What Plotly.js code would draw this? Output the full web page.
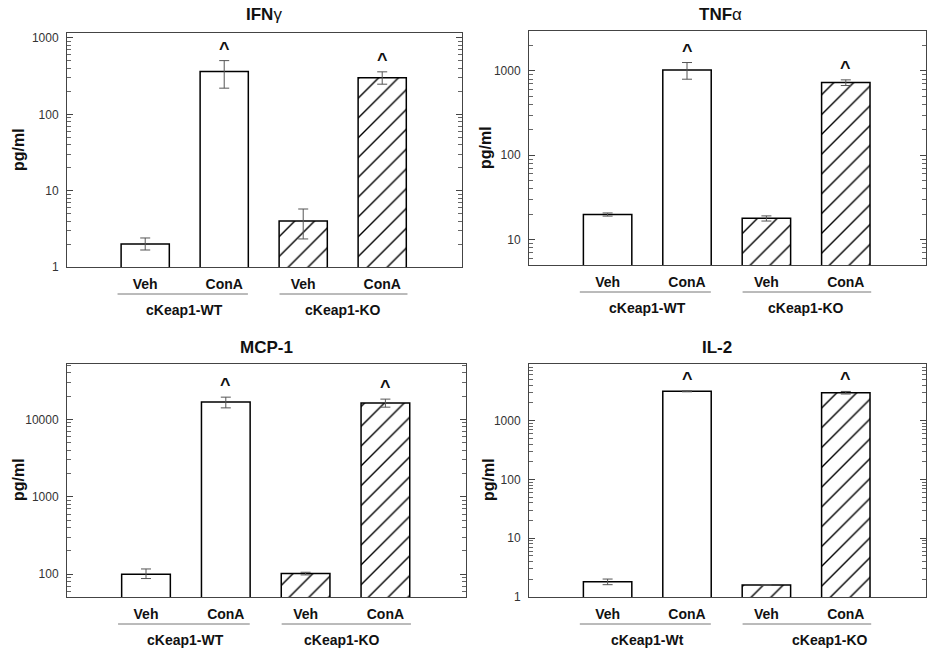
<!DOCTYPE html>
<html>
<head>
<meta charset="utf-8">
<script src="https://cdn.plot.ly/plotly-3.0.1.min.js"></script>
<style>html,body{margin:0;padding:0;background:#fff;}#chart{width:943px;height:660px;}</style>
</head>
<body>
<div id="chart"></div>
<script>
// ---------- data ----------
const categories = ['Veh', 'ConA', 'Veh', 'ConA'];
const groupsTop = ['cKeap1-WT', 'cKeap1-KO'];
const groupsIL2 = ['cKeap1-Wt', 'cKeap1-KO'];
const titles = ['IFN<span style="font-weight:normal">γ</span>', 'TNF<span style="font-weight:normal">α</span>', 'MCP-1', 'IL-2'];
const yTitle = 'pg/ml';
const markText = '^';
const markedBars = [1, 3];

const ifnMean = [2.0, 363, 4.0, 302];
const ifnErrPlus = [0.4, 142, 1.75, 58];
const ifnErrMinus = [0.33, 143, 1.67, 54];
const ifnTicks = [1, 10, 100, 1000];

const tnfMean = [19.8, 1028, 17.9, 730];
const tnfErrPlus = [0.9, 229, 1.2, 53];
const tnfErrMinus = [0.8, 231, 1.3, 59];
const tnfTicks = [10, 100, 1000];

const mcpMean = [100, 16750, 102, 16250];
const mcpErrPlus = [17, 2650, 4, 2050];
const mcpErrMinus = [12, 2650, 4, 1850];
const mcpTicks = [100, 1000, 10000];

const il2Mean = [1.82, 3150, 1.6, 2985];
const il2ErrPlus = [0.2, 60, 0, 150];
const il2ErrMinus = [0.2, 60, 0, 150];
const il2Ticks = [1, 10, 100, 1000];

// ---------- layout / style ----------
const W = 943, H = 660;
const FONT = 'Liberation Sans, Arial, sans-serif';
const px2x = p => p / W;
const px2y = p => 1 - p / H;

const panels = [
  {mean: ifnMean, plus: ifnErrPlus, minus: ifnErrMinus, ticks: ifnTicks, groups: groupsTop,
   box: [67, 462, 33, 267], yr: [0, 3.065], titlePos: [264, 15], yTitlePos: [18, 150], groupX: [0.5, 2.5]},
  {mean: tnfMean, plus: tnfErrPlus, minus: tnfErrMinus, ticks: tnfTicks, groups: groupsTop,
   box: [529, 926, 31, 265], yr: [0.699, 3.473], titlePos: [720, 15], yTitlePos: [485, 148], groupX: [0.5, 2.5]},
  {mean: mcpMean, plus: mcpErrPlus, minus: mcpErrMinus, ticks: mcpTicks, groups: groupsTop,
   box: [67, 466, 364, 597], yr: [1.706, 4.716], titlePos: [266, 348], yTitlePos: [18, 480], groupX: [0.5, 2.45]},
  {mean: il2Mean, plus: il2ErrPlus, minus: il2ErrMinus, ticks: il2Ticks, groups: groupsIL2,
   box: [529, 926, 364, 597], yr: [0, 3.963], titlePos: [717, 348], yTitlePos: [488, 480], groupX: [0.5, 2.8]}
];

// minor log ticks (2..9 within each decade) covering an axis range
function minorLogTicks(r) {
  const out = [];
  for (let e = Math.floor(r[0]); e <= Math.ceil(r[1]); e++) {
    for (let d = 2; d <= 9; d++) {
      const v = d * Math.pow(10, e);
      const lv = Math.log10(v);
      if (lv > r[0] && lv < r[1]) out.push(v);
    }
  }
  return out;
}

const data = [];
const layout = {
  width: W, height: H,
  margin: {l: 0, r: 0, t: 0, b: 0},
  paper_bgcolor: 'white', plot_bgcolor: 'white',
  showlegend: false,
  font: {family: FONT, color: '#111'},
  annotations: [], shapes: []
};

const xIdx = categories.map((c, i) => i);

panels.forEach((p, k) => {
  const n = k === 0 ? '' : String(k + 1);
  const xa = 'x' + n, ya = 'y' + n;
  data.push({
    type: 'bar', x: xIdx, y: p.mean, xaxis: xa, yaxis: ya, width: 0.61,
    marker: {
      color: 'white',
      line: {color: '#000', width: 1.5},
      pattern: {shape: ['', '', '/', '/'], fgcolor: '#000', bgcolor: 'white', size: 14, solidity: 0.1, fillmode: 'replace'}
    },
    error_y: {type: 'data', symmetric: false, array: p.plus, arrayminus: p.minus, color: '#555', thickness: 1, width: 5},
    hoverinfo: 'skip'
  });
  layout['xaxis' + n] = {
    domain: [px2x(p.box[0]), px2x(p.box[1])], anchor: ya, range: [-0.99, 4.01],
    showline: true, linecolor: '#444', linewidth: 1, mirror: true,
    ticks: '', tickvals: xIdx, ticktext: categories, ticklabelstandoff: 4,
    tickfont: {family: FONT, size: 14, color: '#111', weight: 'bold'},
    showgrid: false, zeroline: false, fixedrange: true
  };
  layout['yaxis' + n] = {
    type: 'log', domain: [px2y(p.box[3]), px2y(p.box[2])], anchor: xa, range: p.yr,
    showline: true, linecolor: '#444', linewidth: 1, mirror: 'allticks',
    ticks: 'inside', ticklen: 6, tickcolor: '#444', tickwidth: 1,
    tickvals: p.ticks, ticktext: p.ticks.map(String), ticklabelstandoff: 5,
    tickfont: {family: FONT, size: 12, color: '#333'},
    minor: {ticks: 'inside', ticklen: 4, tickcolor: '#666', tickwidth: 1, tickmode: 'array', tickvals: minorLogTicks(p.yr), showgrid: false},
    showgrid: false, zeroline: false, fixedrange: true
  };
  // panel title
  layout.annotations.push({text: '<b>' + titles[k] + '</b>', xref: 'paper', yref: 'paper',
    x: px2x(p.titlePos[0]), y: px2y(p.titlePos[1]), xanchor: 'center', yanchor: 'middle',
    showarrow: false, font: {family: FONT, size: 17, color: '#111'}});
  // y-axis title
  layout.annotations.push({text: '<b>' + yTitle + '</b>', xref: 'paper', yref: 'paper', textangle: -90,
    x: px2x(p.yTitlePos[0]), y: px2y(p.yTitlePos[1]), xanchor: 'center', yanchor: 'middle',
    showarrow: false, font: {family: FONT, size: 16, color: '#111'}});
  // significance marks
  markedBars.forEach(i => {
    layout.annotations.push({text: '<b>' + markText + '</b>', xref: xa, yref: ya,
      x: i, y: Math.log10(p.mean[i] + p.plus[i]), xanchor: 'center', yanchor: 'bottom', yshift: 0,
      showarrow: false, font: {family: FONT, size: 18, color: '#111'}});
  });
  // group lines and labels
  const spans = [[-0.35, 1.3], [1.7, 3.32]];
  p.groups.forEach((g, gi) => {
    layout.shapes.push({type: 'line', xref: xa, yref: ya + ' domain', ysizemode: 'pixel', yanchor: 0,
      x0: spans[gi][0], x1: spans[gi][1], y0: -27, y1: -27, line: {color: '#777', width: 1}});
    layout.annotations.push({text: '<b>' + g + '</b>', xref: xa, yref: ya + ' domain',
      x: p.groupX[gi], y: 0, yshift: -43, xanchor: 'center', yanchor: 'middle',
      showarrow: false, font: {family: FONT, size: 14, color: '#111'}});
  });
});

Plotly.newPlot('chart', data, layout, {staticPlot: true, displayModeBar: false});
</script>
</body>
</html>
